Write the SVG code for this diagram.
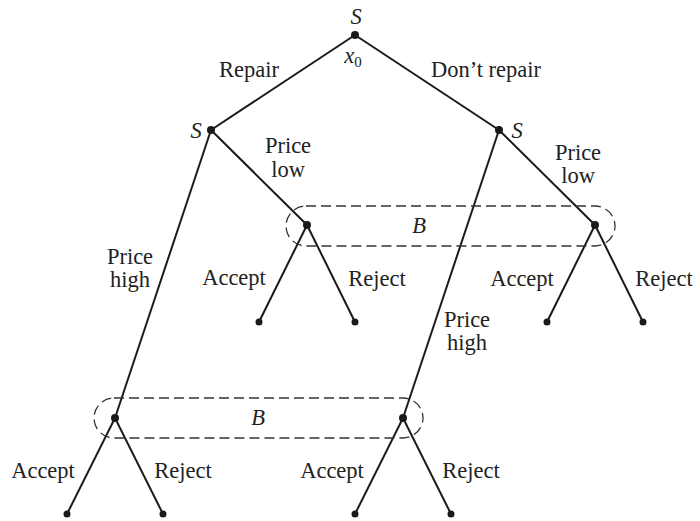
<svg xmlns="http://www.w3.org/2000/svg" width="700" height="521" viewBox="0 0 700 521">
<style>
.e{stroke:#1a1a1a;stroke-width:2;fill:none}
.d{fill:#1a1a1a}
.t{font-family:"Liberation Serif",serif;font-size:22.5px;fill:#222;text-anchor:middle}
.i{font-style:italic}
.box{stroke:#333;stroke-width:1.3;fill:none;stroke-dasharray:10,5}
</style>
<rect width="700" height="521" fill="#fff"/>
<g id="connectors">
<line class="e" x1="355" y1="35" x2="211" y2="130"/>
<line class="e" x1="355" y1="35" x2="499" y2="130"/>
<line class="e" x1="211" y1="130" x2="307" y2="225"/>
<line class="e" x1="211" y1="130" x2="115" y2="418"/>
<line class="e" x1="499" y1="130" x2="595" y2="225"/>
<line class="e" x1="499" y1="130" x2="403" y2="418"/>
<line class="e" x1="307" y1="225" x2="259" y2="322"/>
<line class="e" x1="307" y1="225" x2="355" y2="322"/>
<line class="e" x1="595" y1="225" x2="547" y2="322"/>
<line class="e" x1="595" y1="225" x2="643" y2="322"/>
<line class="e" x1="115" y1="418" x2="67" y2="514"/>
<line class="e" x1="115" y1="418" x2="163" y2="514"/>
<line class="e" x1="403" y1="418" x2="355" y2="514"/>
<line class="e" x1="403" y1="418" x2="451" y2="514"/>
</g>
<g id="info-sets">
<rect class="box" x="286" y="206" width="329" height="40" rx="20" ry="20"/>
<rect class="box" x="94" y="398" width="329" height="40" rx="20" ry="20"/>
<text class="t i" x="419" y="233">B</text>
<text class="t i" x="258" y="425">B</text>
</g>
<g id="root"><circle class="d" cx="355" cy="35" r="4"/><text class="t i" x="356" y="24">S</text><text class="t i" x="353" y="63">x<tspan font-size="15" dy="4" font-style="normal">0</tspan></text></g>
<g id="s-left"><circle class="d" cx="211" cy="130" r="4"/><text class="t i" x="196" y="138">S</text></g>
<g id="s-right"><circle class="d" cx="499" cy="130" r="4"/><text class="t i" x="517" y="138">S</text></g>
<g id="b1"><circle class="d" cx="307" cy="225" r="4"/></g>
<g id="b2"><circle class="d" cx="595" cy="225" r="4"/></g>
<g id="b3"><circle class="d" cx="115" cy="418" r="4"/></g>
<g id="b4"><circle class="d" cx="403" cy="418" r="4"/></g>
<g id="leaves">
<circle class="d" cx="259" cy="322" r="3.5"/><circle class="d" cx="355" cy="322" r="3.5"/>
<circle class="d" cx="547" cy="322" r="3.5"/><circle class="d" cx="643" cy="322" r="3.5"/>
<circle class="d" cx="67" cy="514" r="3.5"/><circle class="d" cx="163" cy="514" r="3.5"/>
<circle class="d" cx="355" cy="514" r="3.5"/><circle class="d" cx="451" cy="514" r="3.5"/>
</g>
<g id="labels">
<text class="t" x="249" y="77">Repair</text>
<text class="t" x="486" y="77">Don’t repair</text>
<text class="t" x="288" y="153">Price</text>
<text class="t" x="288" y="177">low</text>
<text class="t" x="578" y="160">Price</text>
<text class="t" x="578" y="183">low</text>
<text class="t" x="130" y="264">Price</text>
<text class="t" x="130" y="287">high</text>
<text class="t" x="467" y="327">Price</text>
<text class="t" x="467" y="350">high</text>
<text class="t" x="234" y="285">Accept</text>
<text class="t" x="377" y="286">Reject</text>
<text class="t" x="522" y="286">Accept</text>
<text class="t" x="664" y="286">Reject</text>
<text class="t" x="43" y="478">Accept</text>
<text class="t" x="183" y="478">Reject</text>
<text class="t" x="332" y="478">Accept</text>
<text class="t" x="471" y="478">Reject</text>
</g>
</svg>
